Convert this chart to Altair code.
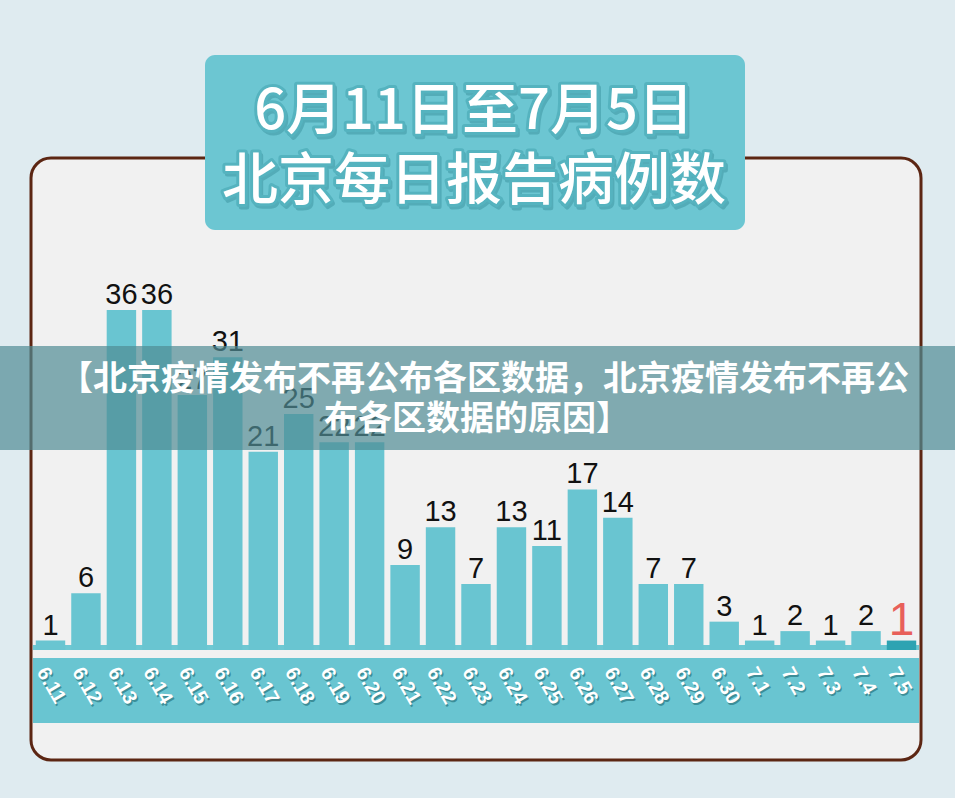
import altair as alt
import pandas as pd

# ---- data ----
dates = ["6.11", "6.12", "6.13", "6.14", "6.15", "6.16", "6.17", "6.18", "6.19", "6.20",
         "6.21", "6.22", "6.23", "6.24", "6.25", "6.26", "6.27", "6.28", "6.29", "6.30",
         "7.1", "7.2", "7.3", "7.4", "7.5"]
cases = [1, 6, 36, 36, 27, 31, 21, 25, 22, 22,
         9, 13, 7, 13, 11, 17, 14, 7, 7, 3,
         1, 2, 1, 2, 1]
title_lines = ["6月11日至7月5日", "北京每日报告病例数"]
banner_lines = ["【北京疫情发布不再公布各区数据，北京疫情发布不再公", "布各区数据的原因】"]
highlight = "7.5"

df = pd.DataFrame({"date": dates, "cases": cases})

W, H = 955, 798
TEAL = "#69c5d1"
one = alt.Data(values=[{"k": 0}])


def box(x, x2, y, y2, **kw):
    return alt.Chart(one).mark_rect(**kw).encode(
        x=alt.value(x), x2=alt.value(x2), y=alt.value(y), y2=alt.value(y2))


def label(text, x, y, **kw):
    return alt.Chart(one).mark_text(**kw).encode(
        x=alt.value(x), y=alt.value(y), text=alt.value(text))


X = alt.X("date:N", sort=dates, axis=None,
          scale=alt.Scale(range=[32.77, 919.23], paddingInner=0.17, paddingOuter=0.085))
Y = alt.Y("cases:Q", axis=None, scale=alt.Scale(domain=[0, 36], range=[650, 310]))
is_hl = alt.datum.date == highlight

panel = box(31, 921, 158, 760, fill="#f1f1f1", stroke="#5c2613", strokeWidth=3, cornerRadius=20)
strip = box(33, 919, 645, 650, fill="#6ec8d3")
band = box(33, 919, 658, 723, fill=TEAL)

base = alt.Chart(df)
bars = base.mark_bar().encode(
    x=X, y=Y, y2=alt.value(645),
    color=alt.condition(is_hl, alt.value("#2ea3b2"), alt.value(TEAL)))
values = base.mark_text(baseline="alphabetic", font="Liberation Sans", dy=-6).encode(
    x=X, y=Y, text="cases:Q",
    color=alt.condition(is_hl, alt.value("#e8605a"), alt.value("#111111")),
    size=alt.condition(is_hl, alt.value(46), alt.value(29)))

lab_kw = dict(angle=60, align="left", baseline="middle", font="Liberation Sans",
              fontWeight="bold", fontSize=20)
xlab_shadow = base.mark_text(dx=-2.2, dy=7.6, color="#2d7c86", opacity=0.75, **lab_kw).encode(
    x=X, y=alt.value(669), text="date:N")
xlab = base.mark_text(dx=-4.5, dy=7.8, color="white", **lab_kw).encode(
    x=X, y=alt.value(669), text="date:N")

title_box = box(205, 745, 55, 230, fill="#6cc6d2", cornerRadius=10)
t_kw = dict(font="Noto Sans CJK SC", fontSize=56, fontWeight=500, align="center", baseline="middle")
title_layers = []
for txt, ty in zip(title_lines, [112, 182]):
    title_layers.append(label(txt, 476, ty + 3, fill="#3f98a4", stroke="#3f98a4",
                              strokeWidth=5, strokeJoin="round", opacity=0.55, **t_kw))
    title_layers.append(label(txt, 474, ty, fill="#55b3bf", stroke="#55b3bf",
                              strokeWidth=6, strokeJoin="round", **t_kw))
    title_layers.append(label(txt, 474, ty, fill="white", **t_kw))

banner = box(0, W, 346, 450, fill="#508c94", opacity=0.7)
b_kw = dict(font="Noto Sans CJK SC", fontSize=34, fontWeight="bold", align="center",
            baseline="middle", color="white")
banner_text = [label(banner_lines[0], 484, 380, **b_kw), label(banner_lines[1], 477, 420, **b_kw)]

chart = alt.layer(
    panel, strip, band, bars, values, xlab_shadow, xlab, title_box,
    *title_layers, banner, *banner_text
).properties(
    width=W, height=H, background="#dfebf0", padding=0, autosize="none"
).configure_view(strokeWidth=0)

chart.save("out.html", embed_options={"renderer": "svg", "actions": False})
